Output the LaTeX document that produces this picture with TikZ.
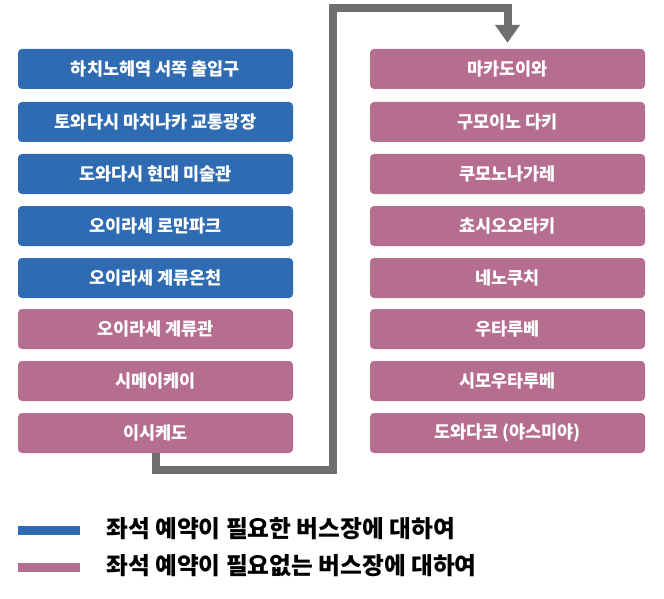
\documentclass[tikz,border=0pt]{standalone}
\usepackage{fontspec}
\setmainfont{Noto Sans CJK KR}
\usetikzlibrary{arrows.meta}

\definecolor{stopblue}{HTML}{2F6BB3}
\definecolor{stoppink}{HTML}{B56E8F}
\definecolor{linegray}{HTML}{6F6F6F}

\tikzset{
  stopbox/.style={rounded corners=4pt, minimum width=275pt, minimum height=40pt,
    inner sep=0pt, text=white, font=\fontsize{17.5}{20}\selectfont\bfseries},
  needbox/.style={stopbox, fill=stopblue},
  freebox/.style={stopbox, fill=stoppink},
  route/.style={line width=8pt, draw=linegray,
    -{Triangle[width=24pt,length=18pt]}, shorten >=6pt},
  keybar/.style={minimum width=62pt, minimum height=9pt, inner sep=0pt},
  keytext/.style={anchor=west, inner sep=0pt, font=\fontsize{23.7}{26}\selectfont\bfseries}
}

\begin{document}
\begin{tikzpicture}[x=1pt, y=-1pt]
  \useasboundingbox (0,0) rectangle (664,599);

  % Linke Spalte
  \node[needbox] (l1) at (155.5,69)  {하치노헤역 서쪽 출입구};
  \node[needbox] (l2) at (155.5,122) {토와다시 마치나카 교통광장};
  \node[needbox] (l3) at (155.5,174) {도와다시 현대 미술관};
  \node[needbox] (l4) at (155.5,226) {오이라세 로만파크};
  \node[needbox] (l5) at (155.5,278) {오이라세 계류온천};
  \node[freebox] (l6) at (155.5,329) {오이라세 계류관};
  \node[freebox] (l7) at (155.5,381) {시메이케이};
  \node[freebox] (l8) at (155.5,433) {이시케도};

  % Rechte Spalte
  \node[freebox] (r1) at (507.5,69)  {마카도이와};
  \node[freebox] (r2) at (507.5,122) {구모이노 다키};
  \node[freebox] (r3) at (507.5,174) {쿠모노나가레};
  \node[freebox] (r4) at (507.5,226) {쵸시오오타키};
  \node[freebox] (r5) at (507.5,278) {네노쿠치};
  \node[freebox] (r6) at (507.5,329) {우타루베};
  \node[freebox] (r7) at (507.5,381) {시모우타루베};
  \node[freebox] (r8) at (507.5,433) {도와다코 (야스미야)};

  % Verbindung
  \coordinate (bendlow) at (333,470);
  \coordinate (bendtop) at (333,8);
  \draw[route] (l8.south) |- (bendlow) -- (bendtop) -| (r1.north);

  % Legende
  \node[keybar, fill=stopblue] (kneed) at (49,530.5) {};
  \node[keybar, fill=stoppink] (kfree) at (49,567.5) {};
  \node[keytext] (tneed) at (106,529) {좌석 예약이 필요한 버스장에 대하여};
  \node[keytext] (tfree) at (106,566) {좌석 예약이 필요없는 버스장에 대하여};
\end{tikzpicture}
\end{document}
